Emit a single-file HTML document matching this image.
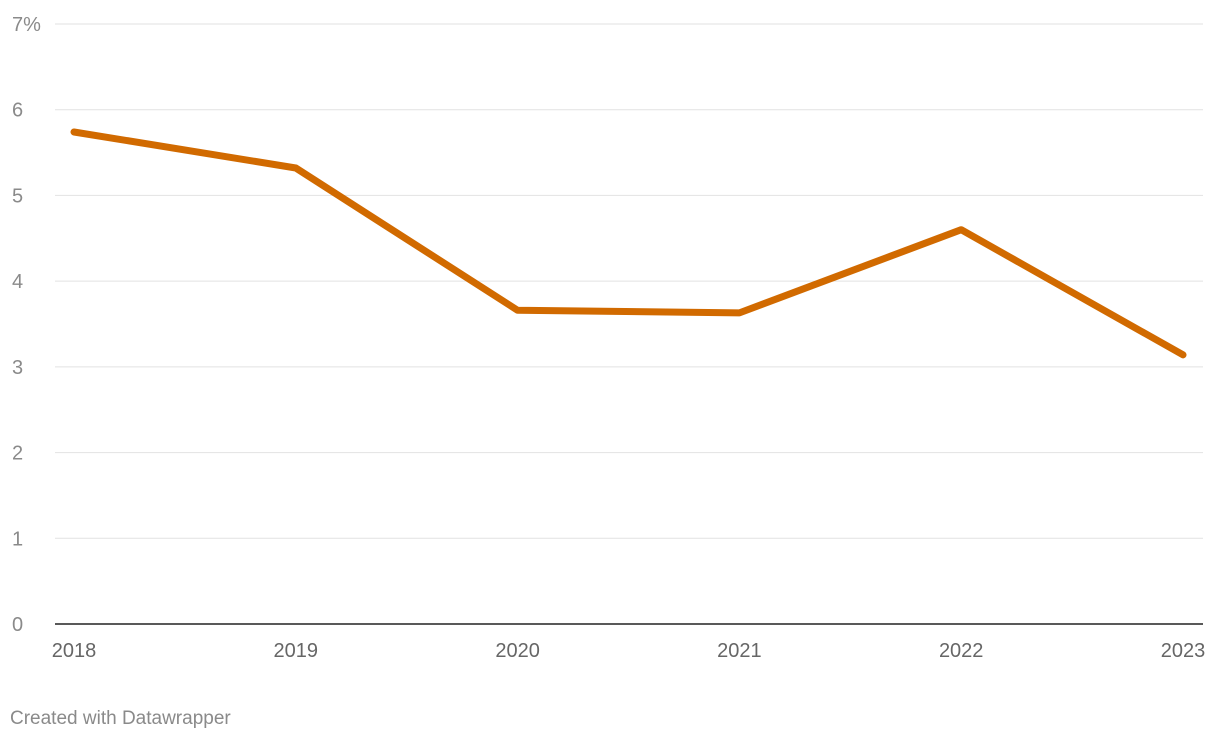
<!DOCTYPE html>
<html><head><meta charset="utf-8"><style>
body{margin:0;background:#fff;font-family:"Liberation Sans",sans-serif;}
svg text{font-family:"Liberation Sans",sans-serif;}
</style></head><body>
<svg id="chart" width="1220" height="740" xmlns="http://www.w3.org/2000/svg">
<g id="grid"></g><g id="xlabels"></g><path id="line" fill="none" stroke="#d16a00" stroke-width="7" stroke-linejoin="round" stroke-linecap="round"/>
<text x="10" y="724" font-size="19" fill="#8a8a8a">Created with Datawrapper</text>
</svg>
<script>
const years = ["2018","2019","2020","2021","2022","2023"];
const values = [5.74, 5.32, 3.66, 3.63, 4.60, 3.14];
const yTicks = [0,1,2,3,4,5,6,7];
const NS="http://www.w3.org/2000/svg";
const y0=624, yTop=24, yMax=7;
const xL=74, xR=1183;
function yScale(v){return y0-(v/yMax)*(y0-yTop);}
function xScale(i){return xL+i*(xR-xL)/(years.length-1);}
const grid=document.getElementById('grid');
yTicks.forEach(t=>{
  const l=document.createElementNS(NS,'line');
  
  
  l.setAttribute('x1',55);l.setAttribute('x2',1203);
  l.setAttribute('y1',yScale(t));l.setAttribute('y2',yScale(t));
  l.setAttribute('stroke',t===0?'#222':'#e2e2e2');l.setAttribute('stroke-width',t===0?1.5:1);
  grid.appendChild(l);
  const tx=document.createElementNS(NS,'text');
  
  
  tx.setAttribute('x',12);tx.setAttribute('y',yScale(t)+7);
  tx.setAttribute('font-size','20');tx.setAttribute('fill','#8a8a8a');
  tx.textContent=t===7?'7%':String(t);
  grid.appendChild(tx);
});
const xl=document.getElementById('xlabels');
years.forEach((yr,i)=>{
  const tx=document.createElementNS(NS,'text');
  
  
  tx.setAttribute('x',xScale(i));tx.setAttribute('y',657);
  tx.setAttribute('text-anchor','middle');
  tx.setAttribute('font-size','20');tx.setAttribute('fill','#666');
  tx.textContent=yr;
  xl.appendChild(tx);
});
document.getElementById('line').setAttribute('d',values.map((v,i)=>(i?'L':'M')+xScale(i)+','+yScale(v)).join(' '));
</script>
</body></html>
